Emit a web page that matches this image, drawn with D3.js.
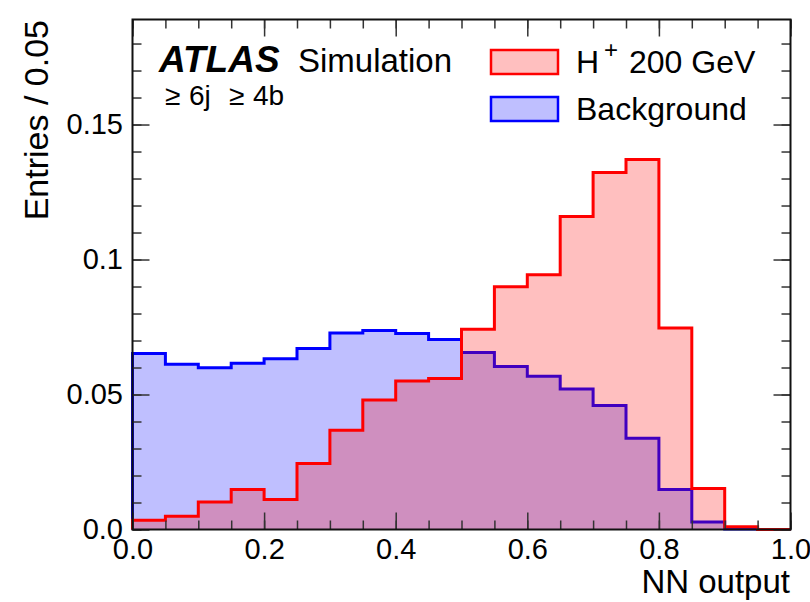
<!DOCTYPE html>
<html>
<head>
<meta charset="utf-8">
<script src="https://cdn.jsdelivr.net/npm/d3@7"></script>
<style>
  body { margin: 0; background: #fff; }
  svg { font-family: "Liberation Sans", Arial, Helvetica, sans-serif; }
</style>
</head>
<body>
<div id="chart"></div>
<script>
// bin lower edges, width 0.05
const binEdges = [0.0, 0.05, 0.1, 0.15, 0.2, 0.25, 0.3, 0.35, 0.4, 0.45,
                  0.5, 0.55, 0.6, 0.65, 0.7, 0.75, 0.8, 0.85, 0.9, 0.95];
const binWidth = 0.05;

const background = [0.0652, 0.0612, 0.0599, 0.0616, 0.0632, 0.0670, 0.0728, 0.0737, 0.0726, 0.0704,
                    0.0656, 0.0604, 0.0568, 0.0520, 0.0459, 0.0338, 0.0148, 0.0028, 0.0002, 0.0];
const signal = [0.0034, 0.0049, 0.0102, 0.0148, 0.0111, 0.0244, 0.0368, 0.0480, 0.0550, 0.0559,
                0.0742, 0.0899, 0.0944, 0.1159, 0.1322, 0.1370, 0.0746, 0.0152, 0.0010, 0.0];

const xTicks = [0, 0.2, 0.4, 0.6, 0.8, 1.0];
const xTickLabels = ["0.0", "0.2", "0.4", "0.6", "0.8", "1.0"];
const yTicks = [0, 0.05, 0.1, 0.15];
const yTickLabels = ["0.0", "0.05", "0.1", "0.15"];

const width = 810, height = 602;
const margin = {top: 19.5, right: 19.5, bottom: 72.5, left: 132.5};
const w = width - margin.left - margin.right;
const h = height - margin.top - margin.bottom;

const svg = d3.select("#chart").append("svg")
    .attr("width", width)
    .attr("height", height);

const g = svg.append("g")
    .attr("transform", `translate(${margin.left},${margin.top})`);

const x = d3.scaleLinear().domain([0, 1]).range([0, w]);
const y = d3.scaleLinear().domain([0, 0.1889]).range([h, 0]);

function histPoints(vals) {
    const pts = binEdges.map((e, i) => ({x: e, v: vals[i]}));
    pts.push({x: binEdges[binEdges.length - 1] + binWidth, v: vals[vals.length - 1]});
    return pts;
}

const area = d3.area()
    .curve(d3.curveStepAfter)
    .x(d => x(d.x))
    .y0(y(0))
    .y1(d => y(d.v));

const line = d3.line()
    .curve(d3.curveStepAfter)
    .x(d => x(d.x))
    .y(d => y(d.v));

function outline(vals) {
    const pts = histPoints(vals);
    return [{x: 0, v: 0}].concat(pts, [{x: 1, v: 0}]);
}

// background first, then signal on top
g.append("path")
    .attr("d", area(histPoints(background)))
    .attr("fill", "rgba(0,0,255,0.25)");
g.append("path")
    .attr("d", line(outline(background)))
    .attr("fill", "none")
    .attr("stroke", "#0000ff")
    .attr("stroke-width", 3);

g.append("path")
    .attr("d", area(histPoints(signal)))
    .attr("fill", "rgba(255,0,0,0.25)");
g.append("path")
    .attr("d", line(outline(signal)))
    .attr("fill", "none")
    .attr("stroke", "#ff0000")
    .attr("stroke-width", 3);

// ticks on all four sides, pointing inward
const xMinor = d3.range(0, 1.0001, 0.05);
const yMinor = d3.range(0, 0.1885, 0.01);

function styleAxis(sel) {
    sel.select(".domain").remove();
    sel.selectAll(".tick line").attr("stroke", "#333").attr("stroke-width", 1.5);
}

g.append("g").attr("transform", `translate(0,${h})`)
    .call(d3.axisBottom(x).tickValues(xMinor).tickSize(-9).tickFormat(""))
    .call(styleAxis);
g.append("g").attr("transform", `translate(0,${h})`)
    .call(d3.axisBottom(x).tickValues(xTicks).tickSize(-17).tickPadding(9)
        .tickFormat((d, i) => xTickLabels[i]))
    .call(styleAxis)
    .selectAll("text").attr("font-size", 29).attr("fill", "#000")
    .style("font-family", "'Liberation Sans', Arial, sans-serif");

g.append("g")
    .call(d3.axisTop(x).tickValues(xMinor).tickSize(-9).tickFormat(""))
    .call(styleAxis);
g.append("g")
    .call(d3.axisTop(x).tickValues(xTicks).tickSize(-17).tickFormat(""))
    .call(styleAxis);

g.append("g")
    .call(d3.axisLeft(y).tickValues(yMinor).tickSize(-9).tickFormat(""))
    .call(styleAxis);
g.append("g")
    .call(d3.axisLeft(y).tickValues(yTicks).tickSize(-17).tickPadding(9.5)
        .tickFormat((d, i) => yTickLabels[i]))
    .call(styleAxis)
    .selectAll("text").attr("font-size", 29).attr("fill", "#000")
    .style("font-family", "'Liberation Sans', Arial, sans-serif");

g.append("g").attr("transform", `translate(${w},0)`)
    .call(d3.axisRight(y).tickValues(yMinor).tickSize(-9).tickFormat(""))
    .call(styleAxis);
g.append("g").attr("transform", `translate(${w},0)`)
    .call(d3.axisRight(y).tickValues(yTicks).tickSize(-17).tickFormat(""))
    .call(styleAxis);

// frame
g.append("rect")
    .attr("width", w).attr("height", h)
    .attr("fill", "none")
    .attr("stroke", "#111")
    .attr("stroke-width", 2);

// axis titles
svg.append("text")
    .attr("transform", "translate(48,20) rotate(-90)")
    .attr("text-anchor", "end")
    .attr("font-size", 34)
    .text("Entries / 0.05");

svg.append("text")
    .attr("x", 790).attr("y", 593)
    .attr("text-anchor", "end")
    .attr("font-size", 33)
    .text("NN output");

// ATLAS label
svg.append("text")
    .attr("x", 159).attr("y", 72)
    .attr("font-size", 37)
    .attr("font-weight", "bold")
    .attr("font-style", "italic")
    .text("ATLAS");
svg.append("text")
    .attr("x", 298).attr("y", 72)
    .attr("font-size", 33)
    .text("Simulation");

const sel = svg.append("text")
    .attr("y", 105)
    .attr("font-size", 28);
sel.append("tspan").attr("x", 165).text("≥");
sel.append("tspan").attr("x", 189).text("6j");
sel.append("tspan").attr("x", 229).text("≥");
sel.append("tspan").attr("x", 253).text("4b");

// legend
const legendItems = [
    {label: "H", sup: "+", rest: "200 GeV", fill: "rgba(255,0,0,0.25)", stroke: "#ff0000"},
    {label: "Background", fill: "rgba(0,0,255,0.25)", stroke: "#0000ff"}
];

const leg = svg.append("g");
legendItems.forEach((d, i) => {
    const yy = 50 + i * 47;
    leg.append("rect")
        .attr("x", 491).attr("y", yy)
        .attr("width", 67).attr("height", 24)
        .attr("fill", d.fill)
        .attr("stroke", d.stroke)
        .attr("stroke-width", 2.5);
    const t = leg.append("text")
        .attr("x", 576).attr("y", yy + 23)
        .attr("font-size", 32)
        .text(d.label);
    if (d.sup) {
        t.append("tspan").attr("x", 604).attr("dy", -15)
            .attr("font-size", 24).attr("font-weight", 300).text(d.sup);
        t.append("tspan").attr("x", 629).attr("dy", 15).text(d.rest);
    }
});
</script>
</body>
</html>
